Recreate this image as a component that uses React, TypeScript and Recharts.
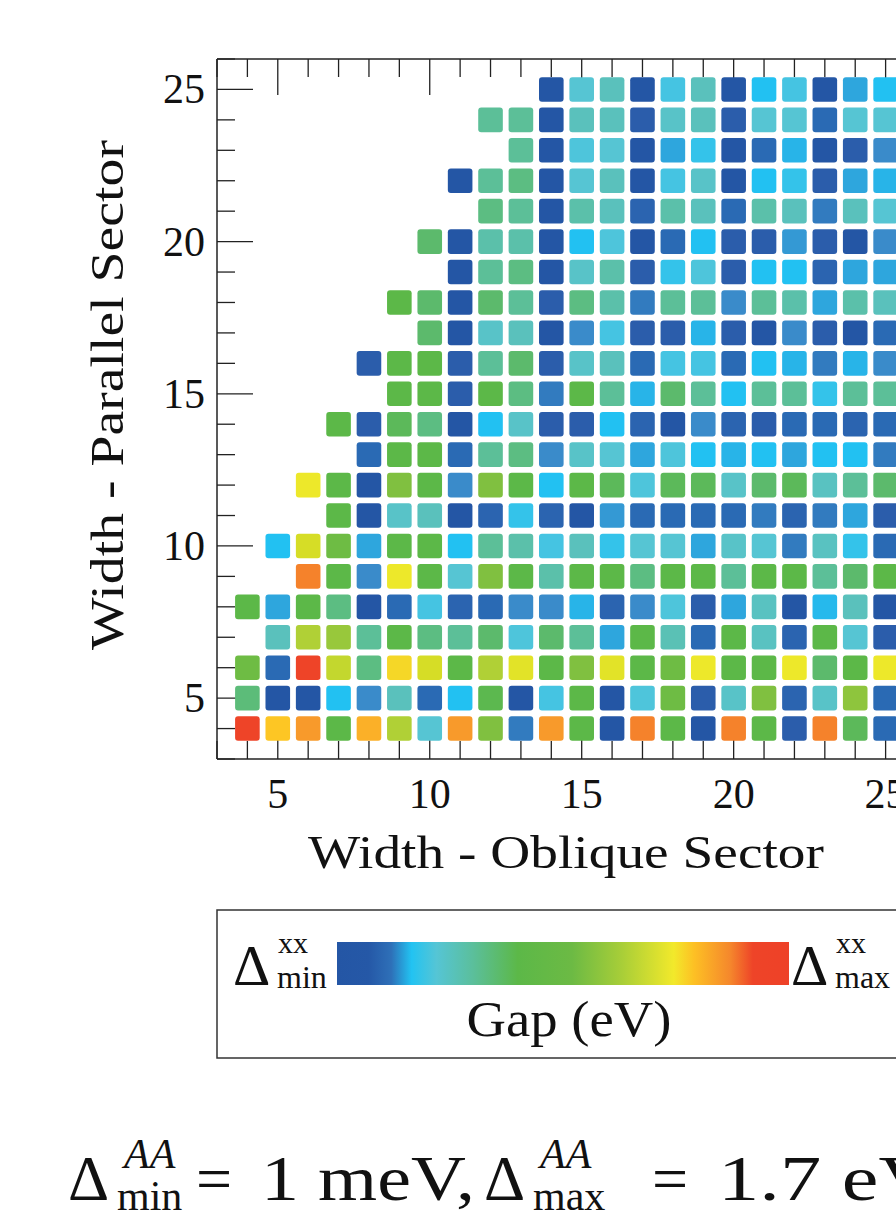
import React from 'react';
import { ScatterChart, Scatter, XAxis, YAxis } from 'recharts';

// ---- data ----
const yRows = [25, 24, 23, 22, 21, 20, 19, 18, 17, 16, 15, 14, 13, 12, 11, 10, 9, 8, 7, 6, 5, 4];
const rowStartX = [14, 12, 13, 11, 12, 10, 11, 9, 10, 8, 9, 7, 8, 6, 7, 5, 6, 4, 5, 4, 4, 4];
// gap level (0 = Δmin ... 19 = Δmax) per row, starting at rowStartX, up to x = 25
const gapRows: number[][] = [
  [0, 7, 8, 0, 6, 8, 0, 5, 6, 0, 4, 5],
  [9, 9, 0, 8, 8, 1, 7.5, 8, 1, 7, 7, 2, 7, 7],
  [9, 0, 6.5, 7, 0, 4, 5.5, 0, 2, 4.5, 0, 1, 3],
  [0, 9, 9.5, 0, 7, 8, 0, 6, 7.5, 0, 5, 5.5, 1, 4, 4.5],
  [9.5, 9, 0, 8.5, 8, 1.5, 8.5, 8, 2, 8.5, 8, 2.5, 8, 7],
  [10, 0, 8.5, 8.5, 0, 5, 6.5, 0, 2, 5, 1, 1, 3.5, 1, 0, 3],
  [0, 9, 9.5, 0, 7.5, 8.5, 1, 5.5, 6.5, 1, 5, 5, 1.5, 4, 4],
  [11, 10, 0, 10, 9, 1, 9.5, 8.5, 2.5, 9, 9, 3, 9, 8.5, 4, 8.5, 8],
  [10, 0, 7.5, 8, 0, 3, 6, 1, 1, 4.5, 1, 0, 3, 1, 0, 2],
  [1, 11, 11, 1, 9, 10, 1, 7.5, 8, 2, 6, 6, 2, 5, 4.5, 2.5, 4.5, 3],
  [11, 11, 1, 11, 9.5, 2.5, 11, 9, 4.5, 10, 9, 5, 9, 9, 5.5, 9, 9],
  [11, 1, 10.5, 9.5, 0, 5, 7.5, 1, 1, 5, 1.5, 0, 3, 1.5, 1, 2, 2, 1.5, 2],
  [2, 11, 11, 2, 9, 9.5, 3, 7.5, 7, 4, 6.5, 5, 4.5, 5, 4, 5, 5, 2.5],
  [15, 11, 0, 12, 11, 3, 12, 11, 5, 11, 10.5, 6.5, 10.5, 10.5, 7.5, 10, 10.5, 7.8, 9, 10],
  [11, 0, 7.5, 8, 0, 1.5, 5.5, 1.5, 0, 3.5, 2, 2, 2, 2, 2.5, 1.5, 2.5, 4, 1],
  [5, 14, 11.5, 4, 11, 11, 5, 9, 8.5, 6, 8, 5.5, 7, 7, 4, 7.5, 7, 2.5, 7.8, 5.5, 2],
  [18, 11, 3, 15, 11, 7, 12, 11, 8.5, 11, 11, 9.5, 11, 11, 9, 11, 11, 9, 10, 11],
  [11, 4, 11, 9.5, 0, 2, 6, 1.5, 2, 3, 3, 4.5, 1.5, 3, 6.5, 1, 4, 7.8, 0, 4.7, 8, 0],
  [8, 13, 12.5, 9, 11, 9.5, 9, 10, 6.5, 10, 9, 4, 11, 8.2, 2, 11, 7.8, 1.5, 11, 7, 1],
  [11.5, 2, 19, 13.5, 9.5, 15.5, 14, 11, 13, 14.5, 11, 12, 14.5, 11, 11.5, 15, 11, 11, 15, 10, 11, 15],
  [9.7, 0, 0, 5, 3, 8, 2, 5, 10.8, 0, 6, 11, 0, 6.5, 11.5, 1, 7.5, 12, 1.5, 7.5, 12.3, 2],
  [19, 16, 17, 11, 16.5, 13, 7, 17, 12, 2.5, 17, 11, 0, 18, 11, 0, 18, 11, 1, 18, 10.5, 2],
];
const axisTicks = [3, 4, 5, 6, 7, 8, 9, 10, 11, 12, 13, 14, 15, 16, 17, 18, 19, 20, 21, 22, 23, 24, 25, 26];
const majorTicks = [5, 10, 15, 20, 25];
const levelColors = [
  '#2456a5', '#2b5dab', '#2a6ab4', '#3a8bca', '#2ea6dd', '#22c1f2', '#45c4e2', '#56c5d3',
  '#5ac1bc', '#5cbf98', '#5cba6c', '#5cb848', '#80c040', '#b0d036', '#d6dd26', '#ede82a',
  '#fdc624', '#f89a2b', '#f5822b', '#ee4428',
];
const gradientStops: [number, string][] = [
  [0, '#2456a5'], [0.07, '#2558a7'], [0.12, '#2e70b8'], [0.165, '#22c3f2'], [0.22, '#55c5d5'],
  [0.3, '#5bbf9c'], [0.4, '#5cb848'], [0.52, '#6cba44'], [0.63, '#a8ce38'], [0.745, '#f2e92b'],
  [0.79, '#fdc024'], [0.87, '#f5872c'], [0.92, '#ee4428'], [1, '#ee4128'],
];

const cells = yRows.flatMap((y, i) => gapRows[i].map((v, j) => ({ x: rowStartX[i] + j, y, v })));

function hex(c: string) {
  return [1, 3, 5].map((k) => parseInt(c.slice(k, k + 2), 16));
}
function colorFor(v: number) {
  const lo = Math.max(0, Math.min(levelColors.length - 1, Math.floor(v)));
  const hi = Math.min(levelColors.length - 1, lo + 1);
  const t = v - lo;
  const a = hex(levelColors[lo]);
  const b = hex(levelColors[hi]);
  const m = a.map((ai, k) => Math.round(ai + (b[k] - ai) * t));
  return `rgb(${m[0]},${m[1]},${m[2]})`;
}

const FONT = '"Liberation Serif", "DejaVu Serif", serif';
const AX = '#222';
const CELL = 24.6;
const W = 960;
const H = 830;
const PLOT = { top: 59, left: 217, right: 44, bottom: H - 759 };

const CellShape = (props: any) => {
  const { cx, cy, payload } = props;
  if (cx == null || cy == null) return null;
  return (
    <rect x={cx - CELL / 2} y={cy - CELL / 2} width={CELL} height={CELL} rx={3} ry={3} fill={colorFor(payload.v)} />
  );
};
const EmptyShape = () => <g />;

const len = (v: number) => (majorTicks.includes(v) ? 36 : 18);

const BottomTick = (p: any) => {
  const v = p.payload.value;
  return (
    <g>
      <line x1={p.x} x2={p.x} y1={p.y} y2={p.y - len(v)} stroke={AX} strokeWidth={1.3} />
      {majorTicks.includes(v) && (
        <text x={p.x} y={p.y + 49} textAnchor="middle" fontFamily={FONT} fontSize={42} fill="#111">{v}</text>
      )}
    </g>
  );
};
const TopTick = (p: any) => {
  const v = p.payload.value;
  return <line x1={p.x} x2={p.x} y1={p.y} y2={p.y + len(v)} stroke={AX} strokeWidth={1.3} />;
};
const LeftTick = (p: any) => {
  const v = p.payload.value;
  return (
    <g>
      <line x1={p.x} x2={p.x + len(v)} y1={p.y} y2={p.y} stroke={AX} strokeWidth={1.3} />
      {majorTicks.includes(v) && (
        <text x={p.x - 12} y={p.y + 14} textAnchor="end" fontFamily={FONT} fontSize={42} fill="#111">{v}</text>
      )}
    </g>
  );
};
const RightTick = (p: any) => {
  const v = p.payload.value;
  return <line x1={p.x} x2={p.x - len(v)} y1={p.y} y2={p.y} stroke={AX} strokeWidth={1.3} />;
};

export default function App() {
  return (
    <div style={{ position: 'absolute', left: 0, top: 0, width: 896, height: 1225, overflow: 'hidden', background: '#fff' }}>
      {/* frame and ticks */}
      <div style={{ position: 'absolute', left: 0, top: 0 }}>
        <ScatterChart width={W} height={H} margin={{ top: 0, right: 0, bottom: 0, left: 0 }}>
          <XAxis
            xAxisId="b" type="number" dataKey="x" domain={[3, 26]} ticks={axisTicks} orientation="bottom" height={PLOT.bottom}
            tickSize={0} tickMargin={0} tickLine={false} tick={<BottomTick />} axisLine={{ stroke: AX, strokeWidth: 1.5 }}
            allowDataOverflow interval={0}
          />
          <XAxis
            xAxisId="t" type="number" dataKey="x" domain={[3, 26]} ticks={axisTicks} orientation="top" height={PLOT.top}
            tickSize={0} tickMargin={0} tickLine={false} tick={<TopTick />} axisLine={{ stroke: AX, strokeWidth: 1.5 }}
            allowDataOverflow interval={0}
          />
          <YAxis
            yAxisId="l" type="number" dataKey="y" domain={[3, 26]} ticks={axisTicks} orientation="left" width={PLOT.left}
            tickSize={0} tickMargin={0} tickLine={false} tick={<LeftTick />} axisLine={{ stroke: AX, strokeWidth: 1.5 }}
            allowDataOverflow interval={0}
          />
          <YAxis
            yAxisId="r" type="number" dataKey="y" domain={[3, 26]} ticks={axisTicks} orientation="right" width={PLOT.right}
            tickSize={0} tickMargin={0} tickLine={false} tick={<RightTick />} axisLine={{ stroke: AX, strokeWidth: 1.5 }}
            allowDataOverflow interval={0}
          />
          <Scatter data={cells} xAxisId="b" yAxisId="l" shape={<EmptyShape />} isAnimationActive={false} />
        </ScatterChart>
      </div>
      {/* cells drawn above the ticks */}
      <div style={{ position: 'absolute', left: 0, top: 0 }}>
        <ScatterChart width={W} height={H} margin={PLOT}>
          <XAxis type="number" dataKey="x" domain={[3, 26]} hide allowDataOverflow />
          <YAxis type="number" dataKey="y" domain={[3, 26]} hide allowDataOverflow />
          <Scatter data={cells} shape={<CellShape />} isAnimationActive={false} />
        </ScatterChart>
      </div>
      <svg width={896} height={1225} style={{ position: 'absolute', left: 0, top: 0, pointerEvents: 'none' }}>
        <defs>
          <linearGradient id="gapGrad" x1="0" x2="1" y1="0" y2="0">
            {gradientStops.map(([o, c]) => (
              <stop key={o} offset={o} stopColor={c} />
            ))}
          </linearGradient>
        </defs>
        {/* axis titles */}
        <text x={566} y={868} textAnchor="middle" fontFamily={FONT} fontSize={47} fill="#111" textLength={516} lengthAdjust="spacingAndGlyphs">
          Width - Oblique Sector
        </text>
        <text x={0} y={0} transform="translate(123,395) rotate(-90)" textAnchor="middle" fontFamily={FONT} fontSize={47} fill="#111" textLength={510} lengthAdjust="spacingAndGlyphs">
          Width - Parallel Sector
        </text>
        {/* colour legend */}
        <rect x={217} y={910} width={720} height={148} fill="none" stroke="#333" strokeWidth={1.5} />
        <rect x={337} y={942} width={452} height={43} fill="url(#gapGrad)" />
        <text x={233} y={985} fontFamily={FONT} fontSize={58} fill="#111">Δ</text>
        <text x={278} y={953} fontFamily={FONT} fontSize={30} fill="#111">xx</text>
        <text x={277} y={988} fontFamily={FONT} fontSize={32} fill="#111">min</text>
        <text x={791} y={985} fontFamily={FONT} fontSize={58} fill="#111">Δ</text>
        <text x={836} y={953} fontFamily={FONT} fontSize={30} fill="#111">xx</text>
        <text x={835} y={988} fontFamily={FONT} fontSize={32} fill="#111">max</text>
        <text x={569} y={1036} textAnchor="middle" fontFamily={FONT} fontSize={50} fill="#111" textLength={205} lengthAdjust="spacingAndGlyphs">Gap (eV)</text>
        {/* bottom annotation */}
        <text x={68} y={1200} fontFamily={FONT} fontSize={64} fill="#111">Δ</text>
        <text x={124} y={1168} fontFamily={FONT} fontSize={42} fontStyle="italic" fill="#111">AA</text>
        <text x={117} y={1210} fontFamily={FONT} fontSize={42} fill="#111">min</text>
        <text x={196} y={1200} fontFamily={FONT} fontSize={64} fill="#111">=</text>
        <text x={261} y={1200} fontFamily={FONT} fontSize={64} fill="#111" textLength={214} lengthAdjust="spacingAndGlyphs">1 meV,</text>
        <text x={484} y={1200} fontFamily={FONT} fontSize={64} fill="#111">Δ</text>
        <text x={540} y={1168} fontFamily={FONT} fontSize={42} fontStyle="italic" fill="#111">AA</text>
        <text x={533} y={1210} fontFamily={FONT} fontSize={42} fill="#111">max</text>
        <text x={652} y={1200} fontFamily={FONT} fontSize={64} fill="#111">=</text>
        <text x={718} y={1200} fontFamily={FONT} fontSize={64} fill="#111" textLength={220} lengthAdjust="spacingAndGlyphs">1.7 eV</text>
      </svg>
    </div>
  );
}
